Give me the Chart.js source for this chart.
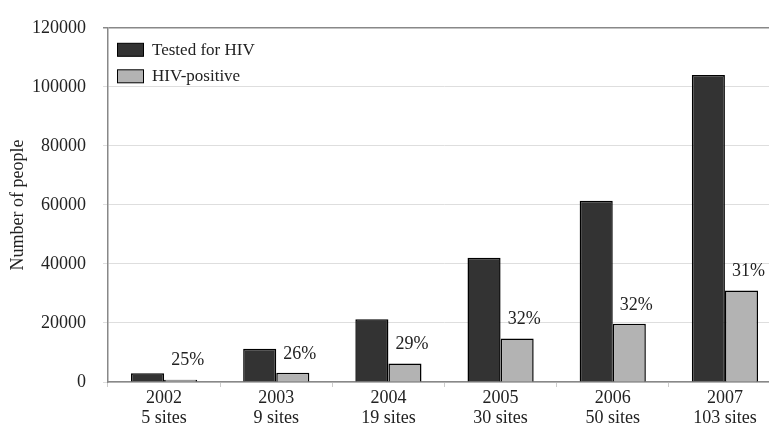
<!DOCTYPE html>
<html>
<head>
<meta charset="utf-8">
<script src="https://cdn.jsdelivr.net/npm/chart.js@4"></script>
<style>
html,body{margin:0;padding:0;background:#fff;overflow:hidden;width:769px;height:429px;}
canvas{display:block;}
</style>
</head>
<body>
<canvas id="c" width="781" height="429"></canvas>
<script>
const years = ['2002','2003','2004','2005','2006','2007'];
const sites = ['5 sites','9 sites','19 sites','30 sites','50 sites','103 sites'];
const tested = [3000, 11300, 21300, 42100, 61400, 104000];
const positive = [800, 3100, 6300, 14700, 19700, 31000];
const pctLabels = ['25%','26%','29%','32%','32%','31%'];
const yTicks = [0, 20000, 40000, 60000, 80000, 100000, 120000];

const FONT = "'Liberation Serif', 'DejaVu Serif', serif";

const pctPlugin = {
  id: 'pct',
  afterDatasetsDraw(chart) {
    const ctx = chart.ctx;
    const meta = chart.getDatasetMeta(1);
    ctx.save();
    ctx.font = '18px ' + FONT;
    ctx.fillStyle = '#222';
    ctx.textAlign = 'center';
    ctx.textBaseline = 'middle';
    meta.data.forEach((bar, i) => {
      ctx.fillText(pctLabels[i], bar.x + 7, bar.y - 19);
    });
    ctx.restore();
  }
};

const legendPlugin = {
  id: 'innerLegend',
  afterDraw(chart) {
    const ctx = chart.ctx;
    const a = chart.chartArea;
    ctx.save();
    ctx.font = '17px ' + FONT;
    ctx.textBaseline = 'middle';
    chart.data.datasets.forEach((ds, i) => {
      const bx = a.left + 9.5, by = a.top + 15.5 + i * 26.5;
      ctx.fillStyle = ds.backgroundColor;
      ctx.fillRect(bx, by, 26, 13);
      ctx.strokeStyle = '#000';
      ctx.lineWidth = 1;
      ctx.strokeRect(bx, by, 26, 13);
      ctx.fillStyle = '#222';
      ctx.fillText(ds.label, a.left + 44, by + 7);
    });
    ctx.restore();
  }
};

new Chart(document.getElementById('c'), {
  type: 'bar',
  data: {
    labels: years.map((y, i) => [y, sites[i]]),
    datasets: [
      { label: 'Tested for HIV', data: tested, backgroundColor: '#333333', borderColor: '#000', borderWidth: 1.5 },
      { label: 'HIV-positive', data: positive, backgroundColor: '#b3b3b3', borderColor: '#000', borderWidth: 1.5 }
    ]
  },
  options: {
    responsive: false,
    animation: false,
    layout: { padding: { top: 17, left: 0, right: 0, bottom: 0 } },
    datasets: { bar: { categoryPercentage: 0.59, barPercentage: 1.0 } },
    plugins: { legend: { display: false }, tooltip: { enabled: false } },
    scales: {
      x: {
        grid: { drawOnChartArea: false, drawTicks: true, tickLength: 5, color: '#ccc', offset: true },
        border: { color: '#888', width: 1.5 },
        ticks: { color: '#222', padding: 1, font: { family: FONT, size: 18, lineHeight: 1.12 } },
        afterFit(s) { s.height = 47; }
      },
      y: {
        min: 0, max: 120000,
        afterBuildTicks(s) { s.ticks = yTicks.map(v => ({ value: v })); },
        grid: {
          color: (c) => (c.tick && c.tick.value === 120000) ? '#888' : '#dedede',
          lineWidth: (c) => (c.tick && c.tick.value === 120000) ? 1.5 : 1,
          tickLength: 5
        },
        border: { color: '#888', width: 1.5 },
        ticks: { color: '#222', padding: 17, font: { family: FONT, size: 18 }, callback: (v) => String(v) },
        title: { display: true, text: 'Number of people', color: '#222', padding: { top: 7, bottom: 0 }, font: { family: FONT, size: 18 } },
        afterFit(s) { s.width = 108; }
      }
    }
  },
  plugins: [pctPlugin, legendPlugin]
});
</script>
</body>
</html>
